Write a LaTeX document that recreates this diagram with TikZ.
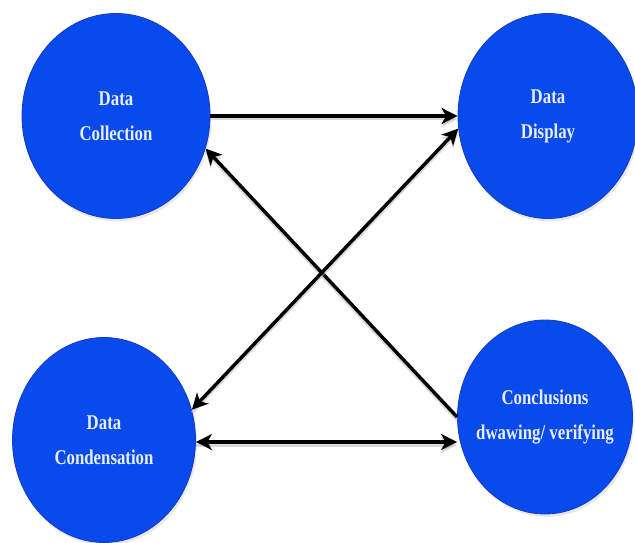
\documentclass[tikz,border=0pt]{standalone}
\usepackage{fontspec}
\setmainfont{Liberation Serif}[FakeStretch=0.8]
\usetikzlibrary{shapes.geometric,arrows.meta,shadows}

\definecolor{stageblue}{RGB}{8,74,236}
\definecolor{stageedge}{RGB}{20,60,190}
\definecolor{stagetext}{RGB}{232,238,255}

\tikzset{
  stage/.style={ellipse, fill=stageblue, draw=stageedge, line width=0.8pt,
    inner sep=0pt, align=center, text=stagetext,
    font=\fontsize{21}{35}\selectfont\bfseries,
    drop shadow={opacity=0.18, shadow xshift=1.5pt, shadow yshift=-3pt}},
  flow/.style={line width=3.4pt, draw=black, -{Stealth[length=16pt, width=16pt, inset=4.5pt]},
    preaction={draw=black!30, opacity=0.5, line width=3pt,
      transform canvas={yshift=-3pt}, -{Stealth[length=16pt, width=16pt, inset=4.5pt]}}},
  flowboth/.style={flow,
    {Stealth[length=16pt, width=16pt, inset=4.5pt]}-{Stealth[length=16pt, width=16pt, inset=4.5pt]}}
}

\begin{document}
\begin{tikzpicture}[x=1pt, y=1pt]
  \useasboundingbox[fill=white] (0,0) rectangle (635,542);

  % the four stages
  \node[stage, minimum width=188pt, minimum height=205pt] (coll) at (116,426) {Data\\Collection};
  \node[stage, minimum width=180pt, minimum height=205pt] (disp) at (548,426) {Data\\Display};
  \node[stage, minimum width=183pt, minimum height=205pt] (cond) at (104,102) {Data\\Condensation};
  \node[stage, inner xsep=-12pt, minimum width=175pt, minimum height=194pt] (conc) at (545,125) {Conclusions\\dwawing/ verifying};

  % connectors
  \draw[flow] (coll.east) -- (disp.west);
  \draw[flow] (conc.west) -- (coll.-20);
  \draw[flowboth] (cond.19) -- (disp.188);
  \coordinate (condR) at ([yshift=-2pt]cond.east);
  \draw[flowboth] (condR) -- (condR -| conc.west);
\end{tikzpicture}
\end{document}
